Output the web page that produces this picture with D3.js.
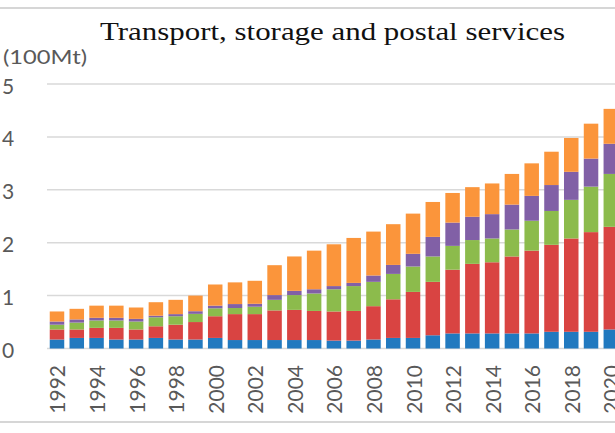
<!DOCTYPE html>
<html>
<head>
<meta charset="utf-8">
<script src="https://cdn.jsdelivr.net/npm/d3@7"></script>
<style>
  html, body { margin: 0; padding: 0; background: #fff; }
  svg { display: block; }
</style>
</head>
<body>
<svg id="chart" width="615" height="433"></svg>
<script>
const years = [1992,1993,1994,1995,1996,1997,1998,1999,2000,2001,2002,2003,2004,2005,2006,2007,2008,2009,2010,2011,2012,2013,2014,2015,2016,2017,2018,2019,2020];
const seriesKeys = ["blue","red","green","purple","orange"];
const seriesBlue   = [0.17,0.20,0.20,0.17,0.17,0.20,0.17,0.17,0.20,0.16,0.16,0.16,0.16,0.16,0.15,0.15,0.17,0.20,0.20,0.25,0.285,0.285,0.285,0.285,0.285,0.316,0.316,0.316,0.36];
const seriesRed    = [0.19,0.16,0.19,0.22,0.19,0.22,0.28,0.33,0.41,0.49,0.49,0.56,0.57,0.55,0.55,0.56,0.63,0.73,0.87,1.01,1.205,1.315,1.345,1.455,1.565,1.644,1.764,1.884,1.94];
const seriesGreen  = [0.09,0.13,0.14,0.14,0.15,0.17,0.16,0.155,0.15,0.115,0.14,0.20,0.28,0.33,0.42,0.47,0.46,0.48,0.48,0.48,0.45,0.45,0.45,0.51,0.565,0.64,0.73,0.86,1.00];
const seriesPurple = [0.06,0.06,0.05,0.05,0.05,0.03,0.04,0.05,0.05,0.075,0.055,0.09,0.08,0.08,0.06,0.06,0.12,0.17,0.24,0.37,0.44,0.44,0.46,0.47,0.47,0.49,0.53,0.53,0.57];
const seriesOrange = [0.19,0.20,0.23,0.23,0.215,0.255,0.27,0.295,0.40,0.41,0.435,0.565,0.65,0.73,0.79,0.85,0.83,0.77,0.76,0.66,0.56,0.56,0.58,0.58,0.615,0.63,0.64,0.66,0.66];
const yTicks = [0,1,2,3,4,5];
const xTickYears = years.filter(y => y % 2 === 0);
const titleText = "Transport, storage and postal services";
const unitText = "(100Mt)";

const colors = {blue:"#2179bf", red:"#d94442", green:"#8cbb4c", purple:"#8160a6", orange:"#fb953b"};

const rows = years.map((yr, i) => ({
  year: yr,
  blue: seriesBlue[i], red: seriesRed[i], green: seriesGreen[i],
  purple: seriesPurple[i], orange: seriesOrange[i]
}));

const svg = d3.select("#chart");

const x = d3.scaleBand().domain(years).range([47.1, 620.7]).paddingInner(0.267).paddingOuter(0.1335);
const y = d3.scaleLinear().domain([0,5]).range([348.5, 84]);

// frame lines
svg.append("line").attr("x1",0).attr("x2",615).attr("y1",8).attr("y2",8)
  .attr("stroke","#d6d6d6").attr("stroke-width",2);
svg.append("line").attr("x1",0).attr("x2",615).attr("y1",422).attr("y2",422)
  .attr("stroke","#d6d6d6").attr("stroke-width",2);

// gridlines
svg.append("g").selectAll("line").data(yTicks).join("line")
  .attr("x1",47).attr("x2",615)
  .attr("y1",d=>y(d)).attr("y2",d=>y(d))
  .attr("stroke","#d9d9d9").attr("stroke-width",1.5);

// y labels
svg.append("g").selectAll("text").data(yTicks).join("text")
  .attr("x",2).attr("y",d=>y(d)+1)
  .attr("dominant-baseline","central")
  .attr("font-family","Lato, 'Open Sans', sans-serif")
  .attr("font-size",21).attr("fill","#595959")
  .text(d=>d);

// bars
const stack = d3.stack().keys(seriesKeys)(rows);
svg.append("g").selectAll("g").data(stack).join("g")
  .attr("fill", d => colors[d.key])
  .selectAll("rect").data(d=>d).join("rect")
  .attr("x", d => x(d.data.year))
  .attr("width", x.bandwidth())
  .attr("y", d => y(d[1]))
  .attr("height", d => y(d[0]) - y(d[1]));

// x labels
svg.append("g").selectAll("text").data(xTickYears).join("text")
  .attr("transform", d => `translate(${x(d)+x.bandwidth()/2},365) rotate(-90)`)
  .attr("text-anchor","end").attr("dominant-baseline","central")
  .attr("font-family","Lato, 'Open Sans', sans-serif")
  .attr("font-size",21).attr("fill","#595959")
  .text(d=>d);

// unit label
svg.append("text").attr("x",3).attr("y",64)
  .attr("font-family","Lato, 'Open Sans', sans-serif")
  .attr("font-size",20).attr("fill","#595959")
  .attr("textLength",84).attr("lengthAdjust","spacingAndGlyphs")
  .text(unitText);

// title
svg.append("text").attr("x",100).attr("y",40)
  .attr("font-family","'Liberation Serif', 'Times New Roman', serif")
  .attr("font-size",24.5).attr("fill","#111")
  .attr("textLength",465).attr("lengthAdjust","spacingAndGlyphs")
  .text(titleText);
</script>
</body>
</html>
